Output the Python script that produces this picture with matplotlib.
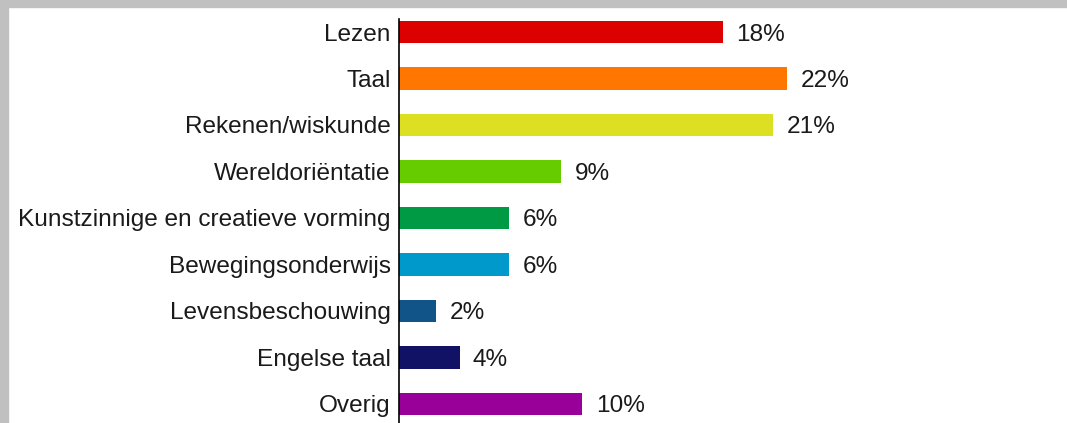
import matplotlib.pyplot as plt
from matplotlib.patches import Rectangle

# vakken en aandeel onderwijstijd
vakken = ['Lezen', 'Taal', 'Rekenen/wiskunde', 'Wereldoriëntatie',
          'Kunstzinnige en creatieve vorming', 'Bewegingsonderwijs',
          'Levensbeschouwing', 'Engelse taal', 'Overig']
waarden = [18.2, 21.8, 21.0, 9.1, 6.2, 6.2, 2.1, 3.4, 10.3]
labels = ['18%', '22%', '21%', '9%', '6%', '6%', '2%', '4%', '10%']
kleuren = ['#dd0000', '#ff7700', '#dde022', '#66cc00', '#009944',
           '#0099cc', '#115588', '#111166', '#990099']

plt.rcParams['font.family'] = ['Liberation Sans', 'DejaVu Sans']

fig = plt.figure(figsize=(10.67, 4.23), dpi=100)
fig.patch.set_facecolor('white')
ax = fig.add_axes([399 / 1067, 0, 1 - 399 / 1067, 1 - 19 / 423])

pos = list(range(len(vakken)))
ax.barh(pos, waarden, height=0.48, color=kleuren, edgecolor='none')
for p, w, t in zip(pos, waarden, labels):
    ax.text(w + 0.75, p, t, va='center_baseline', ha='left', fontsize=17.6, color='#1a1a1a')

ax.set_yticks(pos)
ax.set_yticklabels(vakken, fontsize=17.6, color='#1a1a1a')
ax.set_ylim(8.41, -0.28)
ax.set_xlim(0, 37.5)
ax.set_xticks([])
ax.tick_params(axis='y', length=0, pad=6)
for s in ['top', 'right', 'bottom']:
    ax.spines[s].set_visible(False)
ax.spines['left'].set_color('black')
ax.spines['left'].set_linewidth(1.2)
ax.patch.set_alpha(0)

# grijze rand boven en links
fig.patches.append(Rectangle((0, 1 - 7 / 423), 1, 7 / 423, transform=fig.transFigure,
                             color='#c0c0c0', zorder=-1))
fig.patches.append(Rectangle((0, 0), 8 / 1067, 1, transform=fig.transFigure,
                             color='#c0c0c0', zorder=-1))

fig.savefig('out.png', dpi=100)
